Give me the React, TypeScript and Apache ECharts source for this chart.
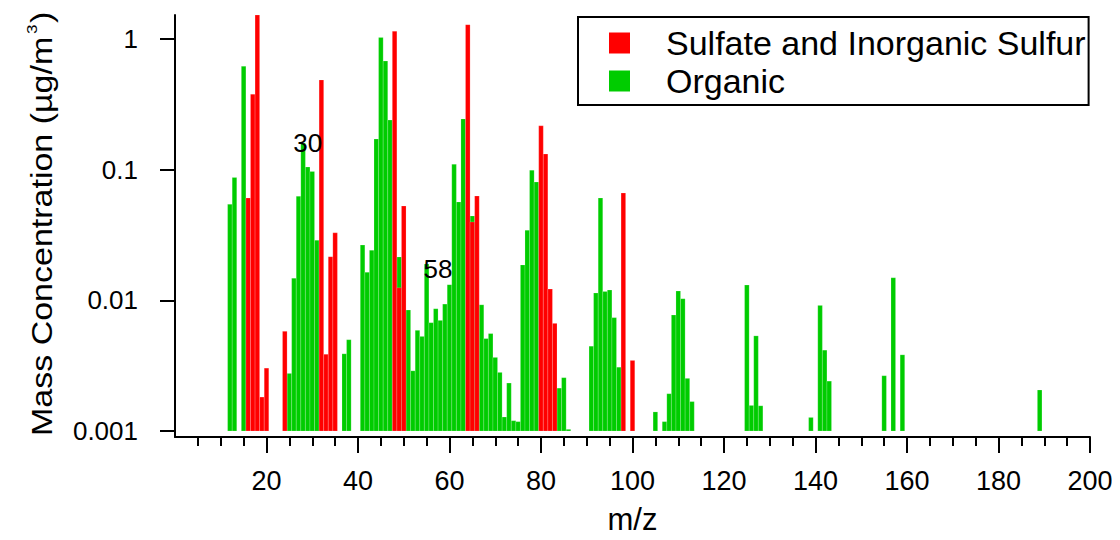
import React, { useEffect, useRef } from "react";
import * as echarts from "echarts";

const FONT = "'Liberation Sans', Arial, Helvetica, sans-serif";

const sulfurMz = [16, 17, 18, 19, 20, 24, 32, 33, 34, 35, 48, 49, 50, 64, 65, 66, 80, 81, 82, 83, 98, 100];
const sulfurValues = [0.0608, 0.379, 1.6, 0.00182, 0.00303, 0.0058, 0.487, 0.00387, 0.0216, 0.0329, 1.15, 0.0125, 0.0528, 1.29, 0.0399, 0.063, 0.217, 0.132, 0.0122, 0.00667, 0.0664, 0.00347];

const organicMz = [12, 13, 15, 25, 26, 27, 28, 29, 30, 31, 37, 38, 41, 42, 43, 44, 45, 46, 47, 49, 51, 52, 53, 54, 55, 56, 57, 58, 59, 60, 61, 62, 63, 65, 67, 68, 69, 70, 71, 72, 73, 74, 75, 76, 77, 78, 79, 84, 85, 86, 91, 92, 93, 94, 95, 96, 97, 105, 107, 108, 109, 110, 111, 112, 113, 125, 126, 127, 128, 139, 141, 142, 143, 155, 157, 159, 189];
const organicValues = [0.0544, 0.0873, 0.62, 0.00276, 0.0148, 0.0626, 0.16, 0.105, 0.097, 0.0289, 0.0039, 0.005, 0.0265, 0.0164, 0.0242, 0.172, 1.03, 0.68, 0.24, 0.0215, 0.00844, 0.00289, 0.0059, 0.0053, 0.019, 0.00675, 0.00863, 0.00703, 0.00937, 0.0132, 0.11, 0.0567, 0.245, 0.0443, 0.00925, 0.0051, 0.00557, 0.00366, 0.00281, 0.00128, 0.00233, 0.0012, 0.00118, 0.0187, 0.0345, 0.0993, 0.0805, 0.00213, 0.00256, 0.00103, 0.00446, 0.0114, 0.0608, 0.0117, 0.012, 0.00738, 0.00308, 0.0014, 0.00118, 0.00193, 0.00773, 0.0118, 0.0103, 0.00253, 0.00168, 0.0131, 0.00157, 0.00535, 0.00156, 0.00127, 0.00915, 0.00416, 0.00241, 0.00265, 0.0149, 0.00383, 0.00206];

const annotationMz = [29.03, 57.5];
const annotationValues = [0.159, 0.0174];
const annotationLabels = ["30", "58"];

const xTicks = [20, 40, 60, 80, 100, 120, 140, 160, 180, 200];
const yTicks = [0.001, 0.01, 0.1, 1];

const BAR_BASE = 0.001;
const Y_MIN = 0.0009;
const Y_MAX = 1.53;

const SULFUR_NAME = "Sulfate and Inorganic Sulfur";
const ORGANIC_NAME = "Organic";
const RED = "#ff0000";
const GREEN = "#00cc00";

function makeRender(color: string) {
  return (params: any, api: any) => {
    const m = api.value(0);
    const v = api.value(1);
    const p1 = api.coord([m - 0.5, v]);
    const p2 = api.coord([m + 0.5, BAR_BASE]);
    const cs = params.coordSys;
    const shape = echarts.graphic.clipRectByRect(
      { x: p1[0], y: p1[1], width: p2[0] - p1[0], height: p2[1] - p1[1] },
      { x: cs.x, y: cs.y, width: cs.width, height: cs.height }
    );
    if (!shape) return null;
    return {
      type: "rect",
      shape,
      style: { fill: color, stroke: "rgba(255,255,255,0.35)", lineWidth: 0.5 },
    };
  };
}

export default function App() {
  const ref = useRef<HTMLDivElement>(null);
  useEffect(() => {
    if (!ref.current) return;
    const chart = echarts.init(ref.current, undefined, { renderer: "svg" });
    const organicData = organicMz.map((m, i) => [m, organicValues[i]]);
    const sulfurData = sulfurMz.map((m, i) => [m, sulfurValues[i]]);
    const annData = annotationMz.map((m, i) => [m, annotationValues[i], annotationLabels[i]]);
    chart.setOption({
      animation: false,
      backgroundColor: "#fff",
      textStyle: { fontFamily: FONT },
      grid: { left: 175, right: 30, top: 15, bottom: 101 },
      legend: {
        data: [SULFUR_NAME, ORGANIC_NAME],
        orient: "vertical",
        left: 578,
        top: 17,
        icon: "rect",
        itemWidth: 21,
        itemHeight: 21,
        itemGap: 0,
        padding: [7, 3, 5, 31],
        borderColor: "#000",
        borderWidth: 2,
        backgroundColor: "#fff",
        textStyle: { fontSize: 34, lineHeight: 38, color: "#000", fontFamily: FONT, padding: [0, 0, 0, 31] },
      },
      xAxis: {
        type: "value",
        min: 0,
        max: 200,
        interval: 20,
        name: "m/z",
        nameLocation: "middle",
        nameGap: 67,
        nameTextStyle: { fontSize: 31, color: "#000", fontFamily: FONT },
        axisLine: { show: true, lineStyle: { color: "#000", width: 2 } },
        axisTick: { show: true, length: 16, lineStyle: { color: "#000", width: 2 }, customValues: xTicks },
        minorTick: { show: true, splitNumber: 4, length: 9, lineStyle: { color: "#000", width: 2 } },
        axisLabel: { fontSize: 27, color: "#000", margin: 30, fontFamily: FONT, customValues: xTicks },
        splitLine: { show: false },
      },
      yAxis: {
        type: "log",
        min: Y_MIN,
        max: Y_MAX,
        axisLine: { show: true, lineStyle: { color: "#000", width: 2 } },
        axisTick: { show: true, length: 15, lineStyle: { color: "#000", width: 2 }, customValues: yTicks },
        axisLabel: {
          fontSize: 26,
          color: "#000",
          margin: 37,
          fontFamily: FONT,
          customValues: yTicks,
          formatter: (v: number) => String(parseFloat(Number(v).toPrecision(4))),
        },
        splitLine: { show: false },
        minorTick: { show: false },
        minorSplitLine: { show: false },
      },
      graphic: [
        {
          type: "group",
          x: 42,
          y: 436,
          rotation: Math.PI / 2,
          scaleY: 0.88,
          children: [
            {
              type: "text",
              x: 0,
              y: 0,
              style: { text: "Mass Concentration (µg/m", fontSize: 34, fontFamily: FONT, fill: "#000", align: "left", verticalAlign: "middle", textAlign: "left", textVerticalAlign: "middle" },
            },
            {
              type: "text",
              x: 402,
              y: -12,
              style: { text: "3", fontSize: 17, fontFamily: FONT, fill: "#000", align: "left", verticalAlign: "middle", textAlign: "left", textVerticalAlign: "middle" },
            },
            {
              type: "text",
              x: 413,
              y: 0,
              style: { text: ")", fontSize: 34, fontFamily: FONT, fill: "#000", align: "left", verticalAlign: "middle", textAlign: "left", textVerticalAlign: "middle" },
            },
          ],
        },
      ],
      series: [
        {
          name: ORGANIC_NAME,
          type: "custom",
          renderItem: makeRender(GREEN),
          itemStyle: { color: GREEN },
          encode: { x: 0, y: 1 },
          data: organicData,
          z: 2,
        },
        {
          name: SULFUR_NAME,
          type: "custom",
          renderItem: makeRender(RED),
          itemStyle: { color: RED },
          encode: { x: 0, y: 1 },
          data: sulfurData,
          z: 3,
        },
        {
          name: "annotations",
          type: "scatter",
          symbolSize: 0,
          silent: true,
          itemStyle: { opacity: 1 },
          data: annData,
          label: {
            show: true,
            position: "inside",
            fontSize: 26,
            color: "#000",
            opacity: 1,
            textBorderWidth: 0,
            fontFamily: FONT,
            formatter: (p: any) => p.value[2],
          },
          z: 5,
        },
      ],
    });
    return () => chart.dispose();
  }, []);
  return <div ref={ref} style={{ width: 1120, height: 540, marginLeft: -8, marginTop: -8 }} />;
}
